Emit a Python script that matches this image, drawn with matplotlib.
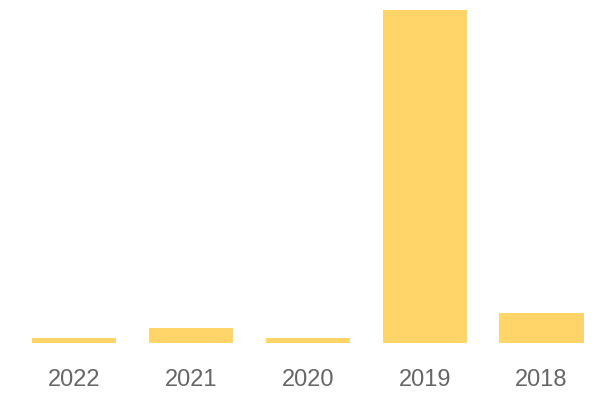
import matplotlib.pyplot as plt

years = ["2022", "2021", "2020", "2019", "2018"]
counts = [1, 3, 1, 67, 6]

plt.rcParams['font.family'] = ['Liberation Sans', 'DejaVu Sans']

fig = plt.figure(figsize=(6, 4), dpi=100)
ax = fig.add_axes([0.026, 0.1425, 0.974, 0.833])

ax.bar(range(len(years)), counts, width=0.72, color="#FFD56A")

ax.set_xlim(-0.5, len(years) - 0.5)
ax.set_ylim(0, 67)
ax.set_xticks(range(len(years)))
ax.set_xticklabels(years, fontsize=17, color="#666666")
ax.tick_params(axis="x", length=0, pad=19)
ax.set_yticks([])
for side in ["top", "right", "left", "bottom"]:
    ax.spines[side].set_visible(False)

plt.savefig("out.png", dpi=100)
